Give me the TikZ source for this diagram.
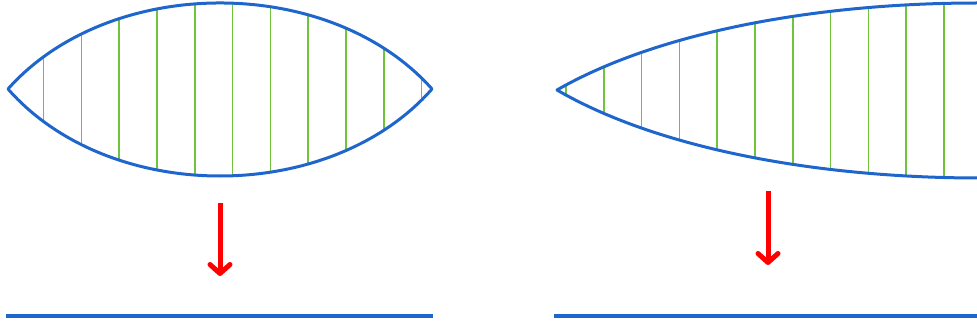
\documentclass[tikz,border=0pt]{standalone}
\usetikzlibrary{arrows.meta}
\definecolor{lensblue}{RGB}{30,102,204}
\definecolor{hatchgreen}{RGB}{112,196,60}
\definecolor{arrowred}{RGB}{255,0,0}
\begin{document}
\begin{tikzpicture}[x=1pt,y=-1pt,
  outline/.style={draw=lensblue,line width=3pt,line join=round},
  hatch/.style={draw=hatchgreen,line width=1.6pt},
  downarrow/.style={draw=arrowred,line width=5pt,
    -{Straight Barb[length=9pt,width=20pt,line join=round,line cap=round]}},
  baseline/.style={draw=lensblue,line width=3.5pt}]
\useasboundingbox (0,0) rectangle (977,326);
% left lens
\begin{scope}
  \clip (8,89) .. controls (110,-25.7) and (330,-25.7) .. (432,89)
        .. controls (330,205) and (110,205) .. (8,89) -- cycle;
  \foreach \x in {43.5,81.3,119.1,156.9,194.7,232.5,270.3,308.1,345.9,383.7,421.5}
    \draw[hatch] (\x,0) -- (\x,190);
\end{scope}
\draw[outline] (8,89) .. controls (110,-25.7) and (330,-25.7) .. (432,89)
        .. controls (330,205) and (110,205) .. (8,89) -- cycle;
% right half-lens
\begin{scope}
  \clip (557,90) .. controls (658,32) and (817.5,3) .. (977,3) -- (990,3) -- (990,178) -- (977,178)
        .. controls (817.5,178) and (658,148.7) .. (557,90) -- cycle;
  \foreach \x in {566,603.8,641.6,679.4,717.2,755,792.8,830.6,868.4,906.2,944}
    \draw[hatch] (\x,0) -- (\x,190);
\end{scope}
\draw[outline] (977,3) .. controls (817.5,3) and (658,32) .. (557,90)
        .. controls (658,148.7) and (817.5,178) .. (980,178);
% arrows
\coordinate (la1) at (220,203);
\coordinate (la2) at (220,276);
\coordinate (ra1) at (768,191);
\coordinate (ra2) at (768,265);
\draw[downarrow] (la1) -- (la2);
\draw[downarrow] (ra1) -- (ra2);
% base lines
\coordinate (lb1) at (6,316);
\coordinate (lb2) at (433,316);
\coordinate (rb1) at (554,316);
\coordinate (rb2) at (980,316);
\draw[baseline] (lb1) -- (lb2);
\draw[baseline] (rb1) -- (rb2);
\end{tikzpicture}
\end{document}
